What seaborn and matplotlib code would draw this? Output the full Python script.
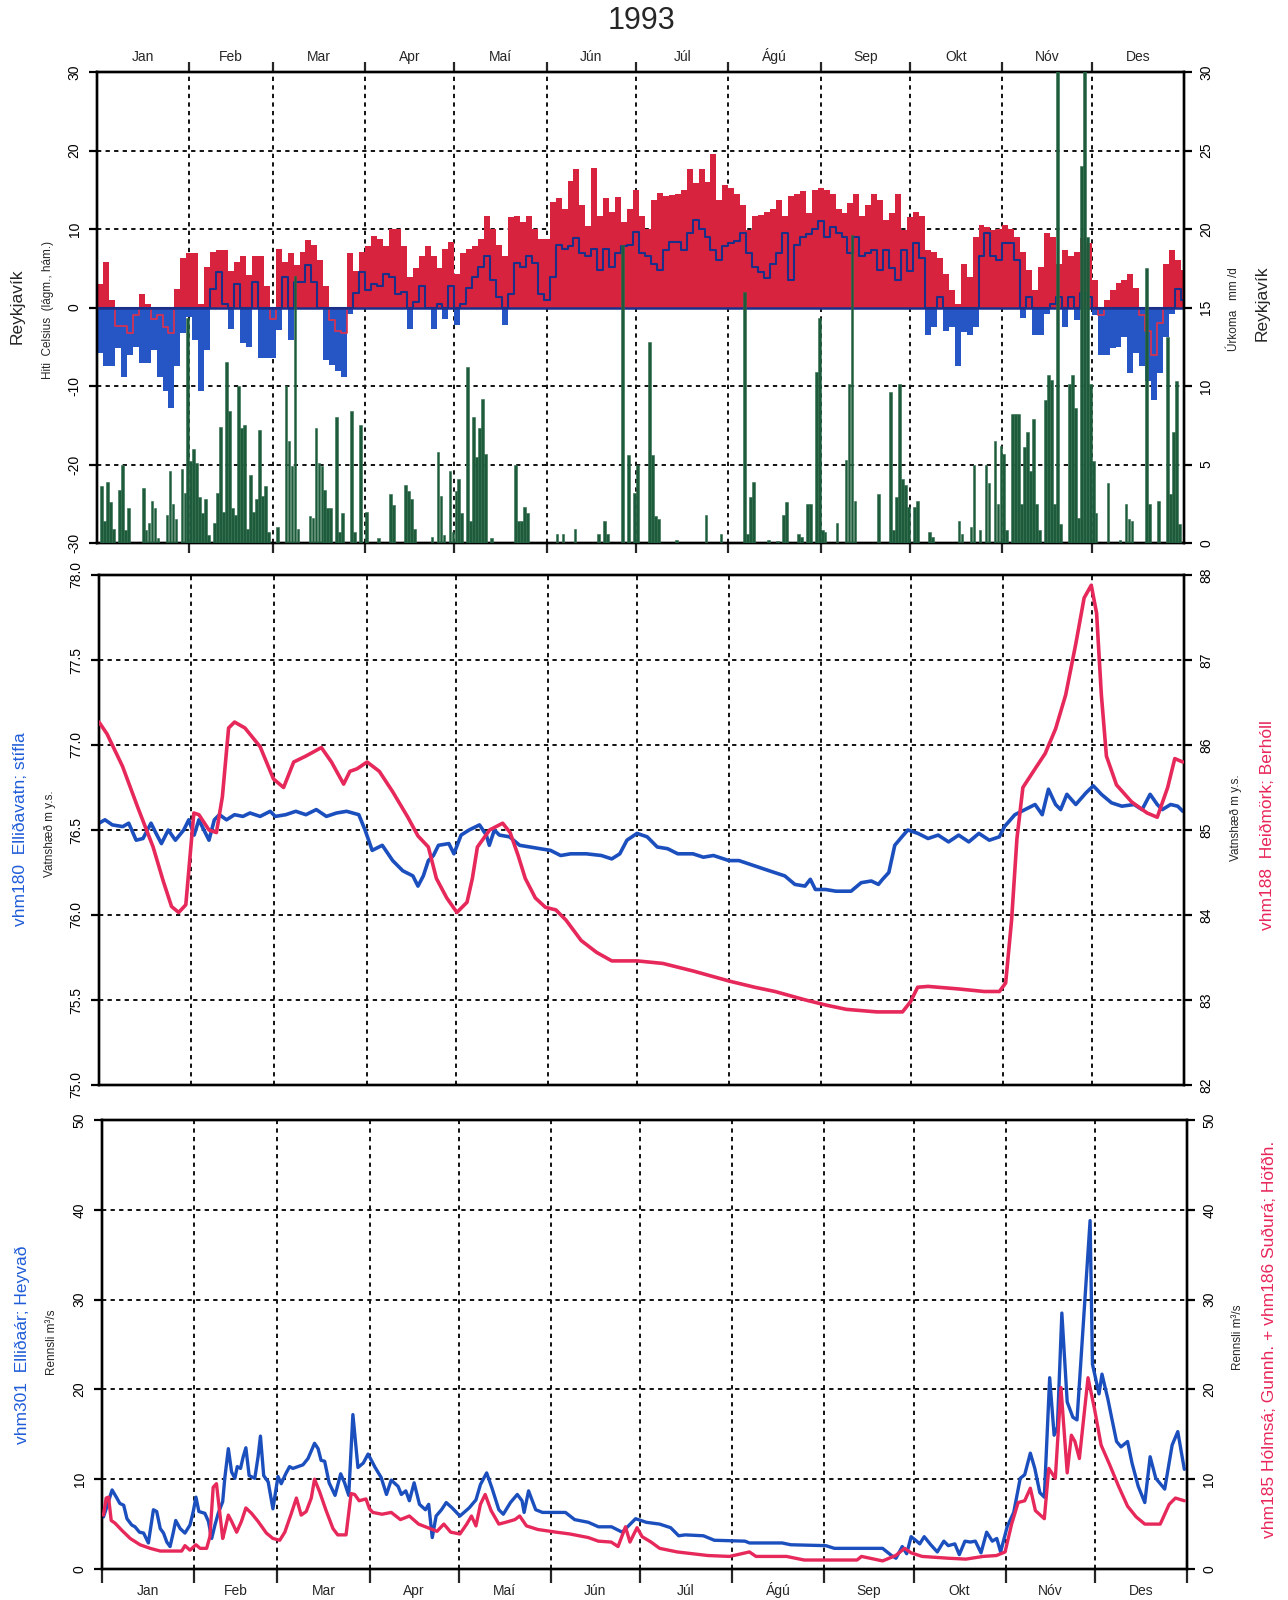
import numpy as np
import matplotlib
matplotlib.use("Agg")
import matplotlib.pyplot as plt
from matplotlib.ticker import FormatStrFormatter
import seaborn as sns

sns.set_theme(style="white")
plt.rcParams['font.family'] = ['Liberation Sans', 'DejaVu Sans']
plt.rcParams['axes.unicode_minus'] = False

# ---------------- data ----------------
MONTH_START = [0, 31, 59, 90, 120, 151, 181, 212, 243, 273, 304, 334, 365]
MONTHS = ["Jan", "Feb", "Mar", "Apr", "Maí", "Jún", "Júl", "Ágú", "Sep", "Okt", "Nóv", "Des"]

# daily max / min temperature, Reykjavík, read every second day (°C)
tmax = [3, 5.8, 1, -2.4, -2.4, -3.3, -1, 1.7, 0.4, -1.5, -1, -2.5, -3.3, 2.4, 6.3, 6.9,          # Jan
        6.9, 0.5, 5.2, 7.1, 7.3, 7.3, 4.7, 5.8, 6.5, 4.1, 6.5, 6.5, 2.8, -1.5,                      # Feb
        7.5, 5.8, 7, 5.4, 7.1, 8.6, 8, 6, 2.8, -1.6, -3, -3.3, 6.9, 4.7, 7.1,                       # Mar
        7.8, 9.1, 8.7, 7.8, 10, 10, 7.8, 3.9, 5, 6.5, 7.8, 6.5, 5, 7.5, 8.3,                        # Apr
        4.3, 7, 7.4, 7.8, 8.7, 11.7, 10, 8, 6.5, 11.5, 11.7, 10.9, 11.7, 10, 8.7, 8.7,              # Maí
        13.5, 13.9, 12.6, 16.1, 17.6, 13, 10.4, 17.8, 11.7, 13.9, 12.2, 14.1, 10.9, 12.6, 15,       # Jún
        11.7, 10, 13.7, 14.6, 14.2, 14.3, 14.4, 15, 17.6, 15.9, 17.6, 16, 19.5, 13.7, 15.6,         # Júl
        15.2, 14.5, 13, 9.9, 11.6, 11.8, 12.2, 12.5, 13.7, 11.6, 14.2, 14.5, 14.8, 12, 15, 15.2,    # Ágú
        15, 14.4, 12.5, 12, 13.3, 14.4, 11.6, 13, 14.4, 13.7, 11.2, 12, 14.4, 9.9, 11.5,            # Sep
        12.2, 11.6, 7.3, 7.1, 6.3, 4.3, 2.2, 0.5, 5.6, 3.9, 9.0, 10.5, 10.3, 9.9, 10,               # Okt
        10.5, 10, 9, 7.1, 4.8, 2.2, 5.2, 9.5, 9, 5.6, 7.3, 6.5, 7.1, 8.8, 8.2,                      # Nóv
        3.5, -1, 1, 2.2, 3.1, 3.5, 4.3, 2.5, -1, -3, -6, -2, 5.6, 7.3, 6, 4.8]                      # Des
tmin = [-5.8, -7.5, -7.5, -5.2, -8.8, -6, -5, -7.1, -7.1, -5.4, -8.8, -10.7, -12.8, -7.5, -3.3, -1.2,
        -4.1, -10.7, -5.4, 2.4, 4.5, 0.5, -2.7, 3.0, -4.5, -5, 3.2, -6.4, -6.4, -6.4,
        -2.9, 3.9, -4.1, 3.2, 3.2, 5.4, 3.2, 0, -6.7, -7.3, -8.1, -8.8, -0.8, 1.9, 4.5,
        2.2, 3, 2.8, 4.3, 3.9, 1.7, 2, -2.8, 0.7, 2.8, 0, -2.8, 0.4, -1.5, 2.8,
        -2.2, 0.4, 2.5, 3.9, 5.2, 6.5, 3.5, 1.3, -2.2, 1.7, 5.7, 5.2, 6.5, 5.7, 1.7, 0.9,
        3.9, 8, 7.4, 7.8, 8.9, 7, 6.5, 7.4, 4.8, 7.4, 5.2, 7, 7.8, 8, 9.6,
        7, 6.5, 5.6, 4.8, 7.3, 8.4, 8.4, 7.3, 9.5, 11.2, 10, 9, 7.3, 6.1, 7.8,
        8.2, 8.5, 9.5, 6.9, 5.2, 4.5, 3.7, 5.6, 7, 9.5, 3.5, 8, 9, 9.3, 10, 11,
        9, 10.3, 9.5, 9, 6.9, 9, 6.5, 7, 7.3, 4.8, 7.3, 5, 3.5, 7.3, 4.6,
        8.2, 6.3, -3.5, -2.5, 1.4, -3, -2.5, -7.5, -3.1, -3.5, -2.5, 6.5, 9.5, 6.5, 6.1,
        8.2, 8.2, 6.1, -1.4, 1.4, -3.5, -3.5, -0.8, 0.5, 1.4, -2.5, 1.4, -1.6, 1.8, 1.4,
        -1, -6.1, -6, -5.2, -5, -3.7, -8.4, -5.8, -7.5, -9.4, -11.8, -8.4, -3.7, -0.8, 2.4, 1]

# daily precipitation, Reykjavík (day of year, mm/d)
precip = [(1, 3.6), (2, 1.4), (3, 3.9), (4, 2.6), (5, 0.9), (7, 3.4), (8, 5.0), (9, 0.8), (10, 2.2),
          (15, 3.5), (16, 0.8), (17, 1.3), (18, 2.7), (19, 2.2), (20, 0.3), (23, 1.8), (24, 4.6),
          (25, 2.5), (26, 1.5), (28, 4.7), (29, 3.2), (30, 14.3), (31, 5.2), (32, 6.0), (33, 5.1),
          (34, 2.9), (35, 1.9), (36, 2.8), (37, 0.5), (39, 1.3), (40, 3.2), (41, 7.4), (42, 2.0),
          (43, 11.5), (44, 8.4), (45, 2.2), (46, 1.8), (47, 10.0), (48, 7.3), (49, 7.5), (50, 0.9),
          (51, 4.3), (52, 2.0), (53, 2.8), (54, 7.2), (55, 3.0), (56, 3.6), (57, 0.7), (60, 1.0),
          (63, 10.0), (64, 6.5), (65, 4.9), (66, 17.0), (67, 0.9), (71, 1.7), (72, 1.6), (73, 7.3),
          (74, 5.1), (75, 4.9), (76, 3.4), (77, 2.2), (78, 2.2), (80, 8.0), (81, 0.7), (82, 1.9),
          (85, 8.4), (86, 0.7), (88, 7.5), (90, 2.0), (94, 0.3), (98, 3.1), (99, 2.4), (103, 3.7),
          (104, 3.3), (105, 2.8), (106, 0.9), (112, 0.4), (114, 5.8), (115, 3.0), (116, 0.5),
          (118, 4.6), (119, 0.7), (120, 3.3), (121, 4.1), (122, 1.9), (124, 11.2), (125, 1.4),
          (126, 8.0), (127, 5.5), (128, 7.3), (129, 9.2), (130, 5.7), (132, 0.3), (140, 5.0),
          (141, 1.4), (142, 1.4), (143, 2.3), (144, 1.9), (154, 0.6), (156, 0.6), (160, 0.9),
          (168, 0.6), (170, 1.4), (171, 0.6), (176, 19.0), (178, 5.6), (180, 3.2), (181, 5.0),
          (185, 12.8), (186, 5.6), (187, 1.7), (188, 1.5), (194, 0.2), (204, 1.8), (209, 0.6),
          (217, 16.0), (218, 0.6), (219, 2.9), (220, 3.9), (225, 0.2), (228, 0.1), (230, 1.8),
          (231, 2.6), (235, 0.6), (236, 0.4), (238, 2.5), (239, 2.5), (241, 10.9), (242, 14.3),
          (243, 0.8), (244, 0.7), (248, 1.3), (251, 5.3), (252, 10.1), (253, 19.6), (254, 2.7),
          (262, 3.1), (266, 9.6), (267, 0.8), (268, 2.9), (269, 10.1), (270, 4.1), (271, 3.7),
          (272, 2.3), (274, 2.3), (275, 2.7), (279, 0.7), (280, 0.4), (289, 1.4), (290, 0.6),
          (293, 1.0), (294, 5.0), (296, 0.8), (298, 5.0), (299, 3.8), (301, 6.5), (302, 2.5),
          (303, 6.2), (304, 5.7), (305, 0.8), (307, 8.2), (308, 8.2), (309, 8.2), (310, 2.5),
          (311, 6.1), (312, 7.1), (313, 4.6), (314, 7.9), (315, 2.5), (316, 0.8), (318, 9.1),
          (319, 10.7), (320, 10.4), (321, 2.5), (322, 32.0), (323, 1.2), (326, 10.1), (327, 10.7),
          (328, 8.6), (329, 1.6), (330, 24.0), (331, 32.0), (332, 19.5), (333, 10.1), (334, 5.2),
          (335, 1.9), (339, 3.8), (343, 0.2), (345, 2.5), (346, 1.5), (347, 1.4), (352, 17.5),
          (353, 2.5), (356, 2.7), (359, 13.1), (360, 3.1), (361, 7.1), (362, 10.3), (363, 1.2)]

# water level vhm180 Elliðavatn (day, m y.s.)
vhm180 = [(0, 76.54), (2, 76.56), (4.5, 76.53), (8, 76.52), (10, 76.54), (12.5, 76.44), (14.8, 76.45),
          (17.5, 76.54), (19.2, 76.48), (21, 76.42), (23.3, 76.5), (25.7, 76.44), (28.5, 76.5),
          (30.2, 76.56), (32, 76.47), (33.6, 76.56), (35.3, 76.5), (37, 76.44), (38.8, 76.56),
          (40.5, 76.59), (42.9, 76.56), (45.6, 76.59), (48.4, 76.58), (50.8, 76.6), (54.2, 76.58),
          (57.6, 76.61), (59.3, 76.58), (62.8, 76.59), (66.2, 76.61), (69.6, 76.59), (73.1, 76.62),
          (76.5, 76.58), (79.9, 76.6), (83.3, 76.61), (87.4, 76.59), (89.5, 76.5), (91.9, 76.38),
          (95.3, 76.41), (98.8, 76.32), (102.2, 76.26), (105.6, 76.23), (107.3, 76.17),
          (109.1, 76.23), (110.8, 76.32), (112.5, 76.35), (114.2, 76.41), (117.7, 76.42),
          (119.4, 76.36), (121.8, 76.47), (124.5, 76.5), (128, 76.53), (130.3, 76.47),
          (131.3, 76.41), (133, 76.5), (134.7, 76.47), (138.1, 76.46), (141.5, 76.41), (145, 76.4),
          (148.4, 76.39), (151.9, 76.38), (155.3, 76.35), (158.7, 76.36), (163.9, 76.36),
          (169, 76.35), (172.5, 76.33), (175.2, 76.36), (177.6, 76.44), (181, 76.48), (184.4, 76.46),
          (187.8, 76.4), (191.3, 76.39), (194.7, 76.36), (199.8, 76.36), (203.3, 76.34),
          (206.7, 76.35), (211.9, 76.32), (215.3, 76.32), (220.4, 76.29), (225.5, 76.26),
          (230.7, 76.23), (234.1, 76.18), (237.5, 76.17), (239.3, 76.21), (241, 76.15),
          (244.4, 76.15), (247.9, 76.14), (253, 76.14), (256.4, 76.19), (259.8, 76.2),
          (262.2, 76.18), (263.6, 76.21), (265.7, 76.25), (267.7, 76.41), (270.1, 76.46),
          (272.1, 76.5), (275.5, 76.48), (278.9, 76.45), (282.3, 76.47), (285.8, 76.43),
          (289.2, 76.47), (292.6, 76.43), (296, 76.48), (299.5, 76.44), (302.9, 76.46),
          (304.6, 76.52), (308.1, 76.59), (311.5, 76.62), (314.9, 76.65), (317.3, 76.59),
          (319.4, 76.74), (321.8, 76.65), (323.5, 76.62), (325.6, 76.71), (328.6, 76.65),
          (332.1, 76.72), (334.5, 76.76), (337.2, 76.71), (340.6, 76.66), (344.1, 76.64),
          (348.2, 76.65), (350.9, 76.62), (353.6, 76.71), (356, 76.65), (357.7, 76.62),
          (360.5, 76.65), (362.9, 76.64), (364.6, 76.61)]

# water level vhm188 Heiðmörk (day, m y.s.)
vhm188 = [(0, 86.27), (2.7, 86.13), (7.9, 85.75), (13, 85.27), (18.2, 84.8), (21.6, 84.4), (24.4, 84.1),
          (26.8, 84.03), (29.2, 84.12), (30.9, 84.8), (31.9, 85.2), (33.6, 85.18), (37, 85.0),
          (39.5, 84.97), (41.5, 85.39), (43.6, 86.2), (45.6, 86.27), (49.1, 86.2), (54.2, 85.98),
          (58.7, 85.6), (62.1, 85.5), (65.5, 85.8), (69.6, 85.87), (74.8, 85.97), (78.2, 85.8),
          (82.3, 85.54), (84.4, 85.69), (86.8, 85.72), (90.2, 85.8), (94.3, 85.69), (98.8, 85.45),
          (103.9, 85.15), (107.3, 84.93), (110.8, 84.8), (113.5, 84.43), (117, 84.2), (120.4, 84.03),
          (123.8, 84.15), (125.6, 84.43), (127.3, 84.8), (131.4, 85.0), (135.8, 85.08),
          (138.3, 84.97), (141, 84.7), (143.4, 84.43), (146.8, 84.2), (150.2, 84.09),
          (153.7, 84.06), (157.1, 83.94), (162.2, 83.7), (167.4, 83.56), (172.5, 83.46),
          (181.1, 83.46), (189.7, 83.43), (200, 83.34), (212.3, 83.22), (220.6, 83.15),
          (227.4, 83.1), (237.7, 83.0), (244.6, 82.94), (251.4, 82.89), (261.7, 82.86),
          (270.3, 82.86), (273, 82.98), (275.4, 83.15), (278.9, 83.16), (289.2, 83.13),
          (297.8, 83.1), (302.9, 83.1), (305, 83.2), (307, 83.94), (308.8, 84.9), (310.8, 85.5),
          (314.9, 85.72), (318.3, 85.9), (321.8, 86.19), (325.2, 86.59), (328.6, 87.19),
          (331.4, 87.73), (333.8, 87.88), (335.6, 87.55), (337.2, 86.59), (338.9, 85.87),
          (342.3, 85.53), (347.4, 85.33), (352.6, 85.2), (356, 85.15), (359.5, 85.5),
          (361.9, 85.84), (364.6, 85.8)]

# discharge vhm301 Elliðaár (day, m3/s)
vhm301 = [(0.5, 5.8), (1.4, 6.7), (3.4, 8.8), (5, 7.9), (6, 7.3), (7.3, 7.1), (8.4, 5.6), (10, 4.9),
          (11.1, 4.7), (12.6, 4.1), (14, 4.0), (15.6, 2.9), (17.3, 6.6), (18.4, 6.4), (19.6, 4.5),
          (20.7, 4.0), (21.8, 3.0), (22.9, 2.5), (24, 4.1), (24.8, 5.4), (26.3, 4.5), (27.9, 4.0),
          (29.6, 4.9), (30.7, 6.4), (31.6, 8.0), (32.6, 6.4), (34.6, 6.2), (35.8, 5.3), (36.9, 3.4),
          (38, 4.9), (39.1, 6.2), (40.6, 7.5), (41.3, 10.1), (42.5, 13.4), (43.6, 10.8),
          (44.7, 10.1), (45.5, 11.4), (46.6, 11.2), (47.5, 12.5), (48.4, 13.5), (49.5, 10.4),
          (51.4, 10.1), (52.5, 12.5), (53.3, 14.8), (54.4, 10.4), (55.9, 9.7), (57.5, 6.7),
          (59.2, 10.3), (60.3, 9.5), (61.8, 10.6), (63.1, 11.4), (64.2, 11.2), (65.9, 11.4),
          (67.6, 11.6), (69.3, 12.3), (71.5, 14.0), (72.7, 13.4), (73.7, 12.1), (74.9, 12.0),
          (76.4, 9.6), (78.4, 8.2), (80.3, 10.6), (81.6, 9.6), (83, 8.2), (84.4, 17.2),
          (86.1, 11.3), (87.9, 11.8), (89.5, 12.8), (91.9, 11.3), (93.9, 10.2), (95.7, 8.3),
          (97.3, 9.9), (99.6, 9.2), (100.7, 8.3), (102.2, 8.7), (103.4, 7.6), (105, 9.6),
          (106.8, 7.2), (108.8, 6.6), (109.9, 7.2), (111.1, 3.5), (112.4, 5.9), (114.2, 6.6),
          (115.8, 7.4), (117.8, 6.8), (120.4, 5.9), (123.5, 6.8), (125.8, 7.7), (127.3, 9.4),
          (129.4, 10.7), (131.2, 9.0), (133.5, 6.6), (135, 6.1), (137.4, 7.4), (139.7, 8.3),
          (141.3, 7.6), (142, 6.3), (143.5, 8.7), (145.9, 6.6), (148.2, 6.3), (155.9, 6.3),
          (159, 5.5), (163.6, 5.2), (167, 4.7), (171.4, 4.7), (175, 4.1), (179.5, 5.6),
          (183.1, 5.2), (187.6, 5.0), (191.3, 4.6), (194, 3.7), (196.2, 3.8), (202.3, 3.7),
          (206, 3.2), (216.3, 3.1), (217.8, 2.9), (228.8, 2.9), (231.7, 2.7), (243.5, 2.6),
          (246.4, 2.3), (262.6, 2.3), (265.6, 1.5), (267.1, 1.2), (269.2, 2.5), (270.7, 1.7),
          (272.2, 3.6), (273.7, 3.2), (275.1, 2.8), (276.6, 3.6), (278.8, 2.7), (281, 1.9),
          (283.2, 3.1), (284.7, 2.6), (286.9, 2.8), (288.4, 1.6), (290.3, 3.1), (292.1, 3.0),
          (293.8, 3.1), (295.7, 1.8), (297.6, 4.1), (299.5, 3.1), (301, 3.4), (302.3, 1.9),
          (304.5, 4.7), (306.7, 6.3), (308.9, 10.1), (310.4, 10.5), (312.3, 12.9), (313.8, 11.2),
          (315.5, 8.5), (317, 8.0), (318.8, 21.3), (320.3, 14.9), (321.4, 15.8), (322.9, 28.5),
          (324.7, 18.6), (326.6, 16.9), (328, 16.6), (332.4, 38.8), (333.2, 22.8), (335.4, 19.5),
          (336.4, 21.7), (338.4, 18.9), (339.8, 16.6), (341.3, 14.2), (342.8, 13.6), (345, 14.2),
          (346.5, 11.8), (348.6, 9.2), (350.8, 7.4), (352.6, 12.5), (354.5, 10.1), (357.5, 8.9),
          (360, 13.8), (361.9, 15.3), (364.1, 11.1)]

# discharge vhm185 + vhm186 (day, m3/s)
vhm185 = [(0.5, 6.0), (1.4, 7.9), (2.2, 8.0), (3.1, 5.4), (4.4, 5.1), (6.7, 4.3), (9.5, 3.4), (12.8, 2.7),
          (16.2, 2.3), (19.6, 2.0), (24, 2.0), (26.8, 2.0), (27.9, 2.6), (29.6, 2.1), (31.6, 2.7),
          (33, 2.3), (35.2, 2.3), (36.3, 3.6), (37.4, 9.1), (38.5, 9.5), (39.7, 6.0), (40.6, 3.4),
          (41.3, 4.3), (42.5, 6.0), (43.6, 5.3), (45.3, 4.1), (46.9, 5.3), (48.4, 6.8), (50.3, 6.2),
          (52.5, 5.3), (55.3, 4.0), (57.5, 3.4), (59.8, 3.2), (61.5, 4.1), (63.7, 6.2), (65.4, 7.9),
          (67, 6.0), (68.7, 6.4), (70.4, 7.9), (71.5, 10.0), (73.2, 8.6), (75.4, 6.5), (77.7, 4.5),
          (79.3, 3.8), (82.1, 3.8), (83.8, 8.4), (85, 8.3), (86.5, 7.6), (88.8, 7.8), (90, 6.7),
          (91.1, 6.3), (94.2, 6.1), (97.3, 6.3), (100.4, 5.5), (103.4, 5.9), (106.5, 5.0),
          (109.6, 4.6), (112.7, 4.2), (115, 5.0), (117.3, 4.1), (120.4, 3.9), (122.7, 5.0),
          (124.3, 5.9), (125.8, 4.8), (127.3, 7.2), (128.9, 8.3), (130.9, 6.5), (133.5, 5.0),
          (135.8, 5.2), (138.9, 5.5), (140.5, 5.9), (142.8, 4.8), (146.6, 4.4), (152.8, 4.1),
          (157.4, 3.9), (163.6, 3.5), (167, 3.1), (171.3, 3.0), (173.6, 2.5), (176.1, 4.7),
          (177.6, 3.0), (180, 4.6), (181.7, 3.6), (184.7, 3.0), (187.6, 2.3), (193.5, 1.9),
          (203.8, 1.5), (211.1, 1.4), (217.8, 1.9), (220, 1.4), (230.3, 1.4), (236.2, 1.0),
          (243.5, 1.0), (254, 1.0), (255.5, 1.4), (262.6, 0.9), (267, 1.5), (270, 2.3),
          (272.2, 1.8), (275.9, 1.4), (284.7, 1.2), (290.6, 1.1), (296.4, 1.4), (300.9, 1.5),
          (303.8, 1.9), (306, 5.0), (308.2, 7.4), (310.4, 7.6), (312.3, 9.0), (314, 6.5),
          (317, 5.6), (318.5, 11.2), (320.7, 10.1), (322.6, 20.2), (324.7, 10.7), (326.1, 14.9),
          (327.3, 14.2), (328.8, 12.3), (331.7, 21.3), (333.9, 17.8), (336.1, 13.8), (339, 11.6),
          (342, 9.2), (345, 7.0), (347.9, 5.8), (350.8, 5.0), (356, 5.0), (359, 7.2),
          (361.1, 7.9), (364.1, 7.6)]

# ---------------- styling ----------------
RED_FILL = '#d8233e'
BLUE_FILL = '#2656c6'
NAVY = '#1c2f88'
GREEN = '#1e5a3c'
LINE_BLUE = '#1c4fbe'
LINE_RED = '#e6285a'
TXT_BLUE = '#1f5cd8'
TXT_RED = '#e8265a'
GRID_LS = (0, (2.2, 2.2))

W, H = 1288, 1600
fig = plt.figure(figsize=(W / 100, H / 100), dpi=100)


def box(l, t, r, b):
    return [l / W, 1 - b / H, (r - l) / W, (b - t) / H]


def frame(ax):
    for s in ax.spines.values():
        s.set_visible(True)
        s.set_color('black')
        s.set_linewidth(1.7)
    ax.set_xlim(0, 365)


def grid(ax, ys):
    for d in MONTH_START[1:-1]:
        ax.axvline(d, color='#111111', lw=1.4, ls=GRID_LS, zorder=1)
    for y in ys:
        ax.axhline(y, color='#111111', lw=1.4, ls=GRID_LS, zorder=1)


def yticks(ax, ticks, side, fmt=None):
    ax.set_yticks(ticks)
    if fmt:
        ax.yaxis.set_major_formatter(FormatStrFormatter(fmt))
    if side == 'left':
        ax.tick_params(axis='y', left=True, right=False, labelleft=True, labelright=False,
                       direction='out', length=6, width=1.6, pad=5, labelsize=10, colors='black')
    else:
        ax.tick_params(axis='y', left=False, right=True, labelleft=False, labelright=True,
                       direction='out', length=6, width=1.6, pad=5, labelsize=10, colors='black')
    for lab in ax.get_yticklabels():
        lab.set_rotation(90)
        lab.set_va('center')


mids = [(MONTH_START[i] + MONTH_START[i + 1]) / 2 for i in range(12)]

# ---------- Panel 1: temperature + precipitation ----------
ax1 = fig.add_axes(box(97, 72, 1184, 543))
frame(ax1)
ax1.set_ylim(-30, 30)
grid(ax1, [-20, -10, 10, 20])

days = np.arange(len(tmax)) * 2
dx = np.append(days, 365)
tx = np.append(tmax, tmax[-1])
tn = np.append(tmin, tmin[-1])
ax1.fill_between(dx, 0, np.maximum(tx, 0), step='post', color=RED_FILL, lw=0, zorder=2)
ax1.fill_between(dx, 0, np.minimum(tn, 0), step='post', color=BLUE_FILL, lw=0, zorder=2)
ax1.step(dx, np.minimum(tx, 0), where='post', color='#e0304a', lw=1.2, zorder=2.4)
ax1.step(dx, np.maximum(tn, 0), where='post', color=NAVY, lw=1.5, zorder=2.5)
ax1.axhline(0, color=NAVY, lw=1.8, zorder=2.6)

yticks(ax1, [-30, -20, -10, 0, 10, 20, 30], 'left')
ax1.set_xticks(MONTH_START[1:-1])
ax1.set_xticklabels([])
ax1.tick_params(axis='x', which='major', top=True, bottom=True, direction='out',
                length=7, width=1.6, labelbottom=False, labeltop=False)
ax1.set_xticks(mids, minor=True)
ax1.set_xticklabels(MONTHS, minor=True)
ax1.tick_params(axis='x', which='minor', length=0, top=False, bottom=False,
                labeltop=True, labelbottom=False, labelsize=10, pad=8)
for lab in ax1.xaxis.get_minorticklabels():
    lab.set_va('baseline')

ax1r = ax1.twinx()
frame(ax1r)
ax1r.set_ylim(0, 30)
pdays = np.array([p[0] for p in precip]) + 0.5
pmm = [p[1] for p in precip]
ax1r.bar(pdays, pmm, width=0.9, color=GREEN, edgecolor='#2f6e4a', lw=0.4, zorder=3)
yticks(ax1r, [0, 5, 10, 15, 20, 25, 30], 'right')

# ---------- Panel 2: water levels ----------
ax2 = fig.add_axes(box(99, 575, 1184, 1085))
frame(ax2)
ax2.set_ylim(75.0, 78.0)
grid(ax2, [75.5, 76.0, 76.5, 77.0, 77.5])
sns.lineplot(x=[p[0] for p in vhm180], y=[p[1] for p in vhm180], ax=ax2,
             color=LINE_BLUE, lw=2.6, sort=False, estimator=None, zorder=3)
yticks(ax2, [75.0, 75.5, 76.0, 76.5, 77.0, 77.5, 78.0], 'left', '%.1f')
ax2.tick_params(axis='x', bottom=False, top=False, labelbottom=False)
ax2.set_xlabel('')
ax2.set_ylabel('')

ax2r = ax2.twinx()
frame(ax2r)
ax2r.set_ylim(82, 88)
sns.lineplot(x=[p[0] for p in vhm188], y=[p[1] for p in vhm188], ax=ax2r,
             color=LINE_RED, lw=2.6, sort=False, estimator=None, zorder=3)
yticks(ax2r, [82, 83, 84, 85, 86, 87, 88], 'right')
ax2r.set_ylabel('')
ax2.set_xlim(0, 365)

# ---------- Panel 3: discharge ----------
ax3 = fig.add_axes(box(102, 1120, 1187, 1569))
frame(ax3)
ax3.set_ylim(0, 50)
grid(ax3, [10, 20, 30, 40])
sns.lineplot(x=[p[0] for p in vhm301], y=[p[1] for p in vhm301], ax=ax3,
             color=LINE_BLUE, lw=2.4, sort=False, estimator=None, zorder=3)
yticks(ax3, [0, 10, 20, 30, 40, 50], 'left')
ax3.set_xticks(MONTH_START)
ax3.set_xticklabels([])
ax3.tick_params(axis='x', which='major', bottom=True, top=False, direction='out',
                length=10, width=1.6, labelbottom=False)
ax3.set_xticks(mids, minor=True)
ax3.set_xticklabels(MONTHS, minor=True)
ax3.tick_params(axis='x', which='minor', length=0, bottom=False, top=False,
                labelbottom=True, labelsize=10, pad=18.5)
for lab in ax3.xaxis.get_minorticklabels():
    lab.set_va('baseline')
ax3.set_xlabel('')
ax3.set_ylabel('')

ax3r = ax3.twinx()
frame(ax3r)
ax3r.set_ylim(0, 50)
sns.lineplot(x=[p[0] for p in vhm185], y=[p[1] for p in vhm185], ax=ax3r,
             color=LINE_RED, lw=2.4, sort=False, estimator=None, zorder=3)
yticks(ax3r, [0, 10, 20, 30, 40, 50], 'right')
ax3r.set_ylabel('')
ax3.set_xlim(0, 365)


# ---------- texts ----------
def ftext(x, y, s, **kw):
    fig.text(x / W, 1 - y / H, s, rotation=90, ha='center', va='center', **kw)


fig.text(641 / W, 1 - 21 / H, '1993', ha='center', va='center', fontsize=22)

ftext(17, 306, 'Reykjavík', fontsize=12.5)
ftext(48, 310, 'Hiti  Celsius  (lágm., hám.)', fontsize=8.5)
ftext(1234, 309, 'Úrkoma   mm /d', fontsize=8.5)
ftext(1262, 303, 'Reykjavík', fontsize=12.5)

ftext(21, 829, 'vhm180  Elliðavatn; stífla', fontsize=12.5, color=TXT_BLUE)
ftext(50, 834, 'Vatnshæð m y.s.', fontsize=8.5)
ftext(1236, 818, 'Vatnshæð m y.s.', fontsize=8.5)
ftext(1267, 825, 'vhm188  Heiðmörk; Berhóll', fontsize=12.5, color=TXT_RED)

ftext(22, 1345, 'vhm301  Elliðaár; Heyvað', fontsize=12.5, color=TXT_BLUE)
ftext(52, 1342, 'Rennsli m³/s', fontsize=8.5)
ftext(1238, 1337, 'Rennsli m³/s', fontsize=8.5)
ftext(1269, 1339, 'vhm185 Hólmsá; Gunnh. + vhm186 Suðurá; Höfðh.', fontsize=12.5, color=TXT_RED)

fig.savefig('out.png', dpi=100, facecolor='white')
